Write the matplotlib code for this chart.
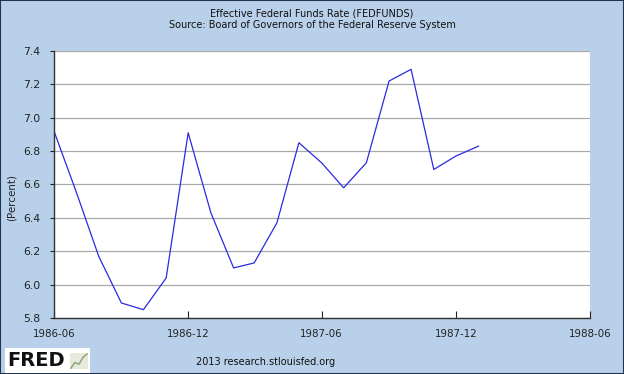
import datetime as dt
import matplotlib
matplotlib.use("Agg")
import matplotlib.pyplot as plt
from matplotlib.patches import Rectangle

months = ["1986-06", "1986-07", "1986-08", "1986-09", "1986-10", "1986-11",
          "1986-12", "1987-01", "1987-02", "1987-03", "1987-04", "1987-05",
          "1987-06", "1987-07", "1987-08", "1987-09", "1987-10", "1987-11",
          "1987-12", "1988-01"]
rate = [6.92, 6.56, 6.17, 5.89, 5.85, 6.04, 6.91, 6.43, 6.10, 6.13,
        6.37, 6.85, 6.73, 6.58, 6.73, 7.22, 7.29, 6.69, 6.77, 6.83]
xtick_labels = ["1986-06", "1986-12", "1987-06", "1987-12", "1988-06"]
yticks = [5.8, 6.0, 6.2, 6.4, 6.6, 6.8, 7.0, 7.2, 7.4]

bg = "#b8d0e9"
fs = 6.8
dates = [dt.datetime.strptime(m, "%Y-%m") for m in months]
xticks = [dt.datetime.strptime(m, "%Y-%m") for m in xtick_labels]

fig = plt.figure(figsize=(6.24, 3.74), dpi=100, facecolor=bg)
fig.patches.append(Rectangle((0, 0), 1, 1, transform=fig.transFigure,
                             fill=False, edgecolor="#1f3550", linewidth=1.5))

ax = fig.add_axes([0.0865, 0.1497, 0.859, 0.714])
ax.plot(dates, rate, color="#2a2ae0", linewidth=0.9)
ax.set_xlim(xticks[0], xticks[-1])
ax.set_ylim(5.8, 7.4)
ax.set_yticks(yticks)
ax.set_yticklabels(["%.1f" % v for v in yticks])
ax.set_xticks(xticks)
ax.set_xticklabels(xtick_labels)
ax.grid(axis="y", color="#a8a8a8", linewidth=0.9)
ax.set_axisbelow(True)
for s in ["top", "right"]:
    ax.spines[s].set_visible(False)
for s in ["left", "bottom"]:
    ax.spines[s].set_color("#333333")
    ax.spines[s].set_linewidth(1.0)
ax.tick_params(axis="x", direction="in", length=5, labelsize=fs + 0.6,
               colors="#222222", pad=8)
ax.tick_params(axis="y", direction="out", length=3, labelsize=fs + 1.0,
               colors="#222222", pad=7)
ax.set_ylabel("(Percent)", fontsize=fs + 0.6, color="#222222")
ax.yaxis.set_label_coords(-0.07, 0.45)

fig.text(0.5, 0.965, "Effective Federal Funds Rate (FEDFUNDS)",
         ha="center", va="center", fontsize=fs + 0.2, color="#111111")
fig.text(0.5, 0.932, "Source: Board of Governors of the Federal Reserve System",
         ha="center", va="center", fontsize=fs + 0.2, color="#111111")
fig.text(0.426, 0.032, "2013 research.stlouisfed.org",
         ha="center", va="center", fontsize=fs + 0.2, color="#111111")

# FRED logo
fig.patches.append(Rectangle((5 / 624, 1 / 374), 85 / 624, 25 / 374,
                             transform=fig.transFigure, facecolor="white",
                             edgecolor="none"))
fig.text(7 / 624, 14 / 374, "FRED", ha="left", va="center", fontsize=14,
         fontweight="bold", color="#111111")
icon = fig.add_axes([70 / 624, 5 / 374, 18 / 624, 16 / 374], zorder=5)
icon.plot([0, 1, 2, 3, 4], [0.5, 1.5, 1.2, 2.4, 3.0], color="#8aa070",
          linewidth=1)
icon.set_facecolor("#e6eadc")
icon.set_xticks([])
icon.set_yticks([])
for s in icon.spines.values():
    s.set_visible(False)

fig.savefig("out.png", dpi=100, facecolor=bg)
